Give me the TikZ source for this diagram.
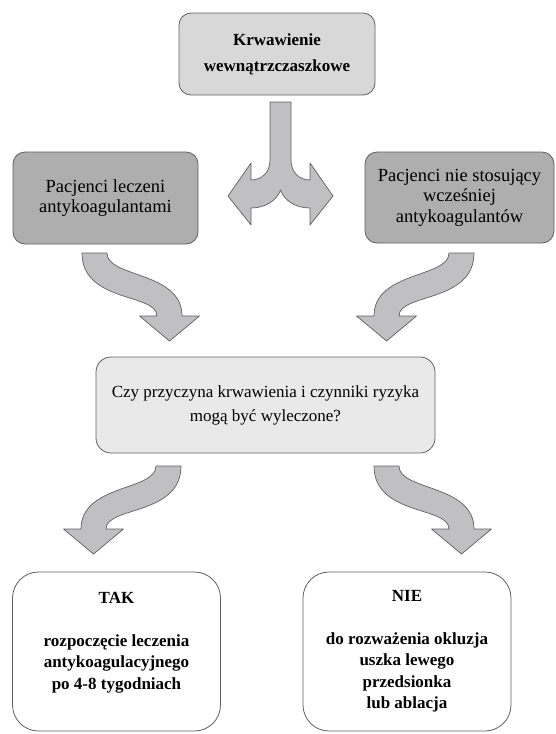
\documentclass[tikz,border=0pt]{standalone}
\usepackage{fontspec}
\setmainfont{Liberation Serif}
\usepackage{xcolor}
\usetikzlibrary{positioning,calc}

\definecolor{boxline}{RGB}{95,95,95}
\definecolor{topgray}{RGB}{216,216,216}
\definecolor{sidegray}{RGB}{174,174,174}
\definecolor{qgray}{RGB}{233,233,234}
\definecolor{arrowgray}{RGB}{192,192,194}

\begin{document}
\begin{tikzpicture}[
                x=1pt, y=-1pt,
                box/.style={draw=boxline, line width=0.8pt, rounded corners=12pt, align=center, inner sep=0pt},
                endbox/.style={box, rounded corners=26pt, fill=white, minimum width=208pt, minimum height=159pt,
                    font=\bfseries\fontsize{17}{21.5}\selectfont},
                blockarrow/.style={draw=boxline, fill=arrowgray, line width=0.7pt, line join=round},
                bendarrow/.pic={
                    \draw[blockarrow] (-12.5,0) -- (12.5,0)
                        .. controls (12.5,25) and (87.5,18) .. (87.5,63)
                        -- (105,63) -- (75,88) -- (45,63) -- (62.5,63)
                        .. controls (62.5,40) and (-12.5,50) .. (-12.5,0) -- cycle;
                }
            ]
                \useasboundingbox (0,0) rectangle (555,734);

                \node[box, fill=topgray, minimum width=196pt, minimum height=82pt,
                    font=\bfseries\fontsize{17}{26}\selectfont] (krw) at (277,54) {Krwawienie\\wewnątrzczaszkowe};
                \node[box, fill=sidegray, minimum width=185pt, minimum height=92pt,
                    font=\fontsize{18.5}{20.5}\selectfont] (antyk) at (105.5,198) {Pacjenci leczeni\\antykoagulantami};
                \node[box, fill=sidegray, minimum width=189pt, minimum height=91pt,
                    font=\fontsize{18.5}{20.5}\selectfont] (bezantyk) at (459.5,197.5) {Pacjenci nie stosujący\\wcześniej\\antykoagulantów};
                \node[box, fill=qgray, rounded corners=15pt, minimum width=339pt, minimum height=96pt,
                    font=\fontsize{17}{24}\selectfont] (pytanie) at (265.5,405) {Czy przyczyna krwawienia i czynniki ryzyka\\mogą być wyleczone?};
                \node[endbox] (tak) at (116.5,651.5) {TAK\\[21pt]rozpoczęcie leczenia\\antykoagulacyjnego\\po 4-8 tygodniach\\~};
                \node[endbox] (nie) at (407,651.5) {NIE\\[21pt]do rozważenia okluzja\\uszka lewego\\przedsionka\\lub ablacja};

                % rozgalezienie pod pierwszym polem
                \draw[blockarrow] (270,102) -- (270,160) .. controls (270,172) and (262,180) .. (251,180)
                    -- (251,163) -- (228,196) -- (251,225) -- (251,208)
                    .. controls (266,208) and (277,200) .. (280.5,190)
                    .. controls (284,200) and (295,208) .. (310,208)
                    -- (310,225) -- (333,196) -- (310,163) -- (310,180)
                    .. controls (299,180) and (291,172) .. (291,160) -- (291,102) -- cycle;

                \path (94.5,253) pic (zL) {bendarrow};
                \path (461.5,253) pic[xscale=-1] (zR) {bendarrow};
                \path (168.5,466) pic[xscale=-1] (takL) {bendarrow};
                \path (386.5,466) pic (nieR) {bendarrow};
            \end{tikzpicture}
\end{document}
